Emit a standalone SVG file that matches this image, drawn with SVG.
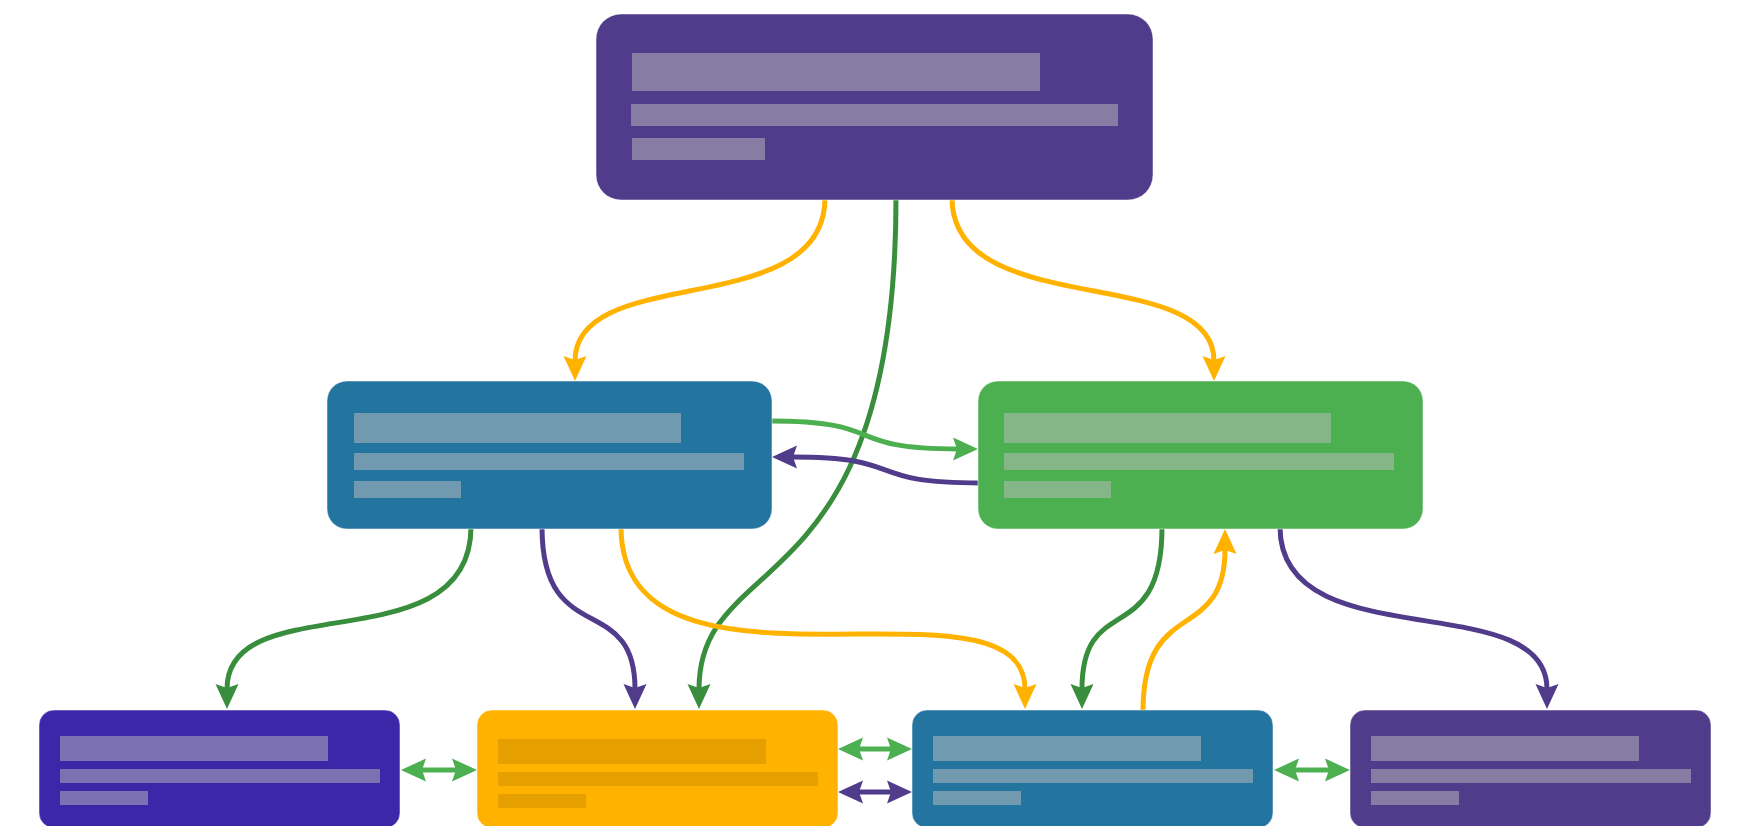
<svg xmlns="http://www.w3.org/2000/svg" width="1737" height="826" viewBox="0 0 1737 826">
  <style>
    .node { stroke: #ffffff; stroke-opacity: 0.5; stroke-width: 1; }
    .bar { fill: #bdbdbd; fill-opacity: 0.5; }
    .bar-dark { fill: #000000; fill-opacity: 0.1; }
    .edge { fill: none; stroke-width: 5; }
    .yellow { stroke: #FFB300; }
    .dgreen { stroke: #388E3C; }
    .lgreen { stroke: #4CAF50; }
    .purple { stroke: #513B8B; }
  </style>
  <defs>
    <marker id="m-yellow" markerUnits="userSpaceOnUse" markerWidth="50" markerHeight="50" refX="0" refY="0" orient="auto-start-reverse" overflow="visible">
      <path d="M20,0 L-5,-11.5 L-1,0 L-5,11.5 Z" fill="#FFB300"/>
    </marker>
    <marker id="m-dgreen" markerUnits="userSpaceOnUse" markerWidth="50" markerHeight="50" refX="0" refY="0" orient="auto-start-reverse" overflow="visible">
      <path d="M20,0 L-5,-11.5 L-1,0 L-5,11.5 Z" fill="#388E3C"/>
    </marker>
    <marker id="m-lgreen" markerUnits="userSpaceOnUse" markerWidth="50" markerHeight="50" refX="0" refY="0" orient="auto-start-reverse" overflow="visible">
      <path d="M20,0 L-5,-11.5 L-1,0 L-5,11.5 Z" fill="#4CAF50"/>
    </marker>
    <marker id="m-purple" markerUnits="userSpaceOnUse" markerWidth="50" markerHeight="50" refX="0" refY="0" orient="auto-start-reverse" overflow="visible">
      <path d="M20,0 L-5,-11.5 L-1,0 L-5,11.5 Z" fill="#513B8B"/>
    </marker>
  </defs>
  <rect width="1737" height="826" fill="#ffffff"/>

  <g id="connectors">
    <path class="edge dgreen" d="M896,198 C896,610 699,547 699,689" marker-end="url(#m-dgreen)"/>
    <path class="edge yellow" d="M825,198 C825,322 575,262 575,361" marker-end="url(#m-yellow)"/>
    <path class="edge yellow" d="M952,198 C952,322 1214,262 1214,361" marker-end="url(#m-yellow)"/>
    <path class="edge lgreen" d="M770,421 C890,421 840,449 958,449" marker-end="url(#m-lgreen)"/>
    <path class="edge purple" d="M980,483 C860,483 910,457 792,457" marker-end="url(#m-purple)"/>
    <path class="edge dgreen" d="M471,527 C471,665 227,585 227,689" marker-end="url(#m-dgreen)"/>
    <path class="edge purple" d="M542,527 C542,650 635,590 635,689" marker-end="url(#m-purple)"/>
    <path class="edge yellow" d="M621,527 C621,723 1025,563 1025,689" marker-end="url(#m-yellow)"/>
    <path class="edge dgreen" d="M1162,527 C1162,650 1082,590 1082,689" marker-end="url(#m-dgreen)"/>
    <path class="edge yellow" d="M1143,711 C1143,595 1225,645 1225,549" marker-end="url(#m-yellow)"/>
    <path class="edge purple" d="M1280,527 C1280,660 1547,585 1547,689" marker-end="url(#m-purple)"/>
    <path class="edge lgreen" d="M421,770 L457,770" marker-start="url(#m-lgreen)" marker-end="url(#m-lgreen)"/>
    <path class="edge lgreen" d="M858,749 L892,749" marker-start="url(#m-lgreen)" marker-end="url(#m-lgreen)"/>
    <path class="edge purple" d="M858,792 L892,792" marker-start="url(#m-purple)" marker-end="url(#m-purple)"/>
    <path class="edge lgreen" d="M1294,770 L1330,770" marker-start="url(#m-lgreen)" marker-end="url(#m-lgreen)"/>
  </g>

  <g id="node-top">
    <rect class="node" x="596" y="14" width="557" height="186" rx="25" fill="#513B8B"/>
    <rect class="bar" x="632" y="53" width="408" height="38"/>
    <rect class="bar" x="631" y="104" width="487" height="22"/>
    <rect class="bar" x="632" y="138" width="133" height="22"/>
  </g>

  <g id="node-mid-left">
    <rect class="node" x="327" y="381" width="445" height="148" rx="20" fill="#2474A0"/>
    <rect class="bar" x="354" y="413" width="327" height="30"/>
    <rect class="bar" x="354" y="453" width="390" height="17"/>
    <rect class="bar" x="354" y="481" width="107" height="17"/>
  </g>

  <g id="node-mid-right">
    <rect class="node" x="978" y="381" width="445" height="148" rx="20" fill="#4CAF50"/>
    <rect class="bar" x="1004" y="413" width="327" height="30"/>
    <rect class="bar" x="1004" y="453" width="390" height="17"/>
    <rect class="bar" x="1004" y="481" width="107" height="17"/>
  </g>

  <g id="node-bottom-1">
    <rect class="node" x="39" y="710" width="361" height="118" rx="15" fill="#3B27A8"/>
    <rect class="bar" x="60" y="736" width="268" height="25"/>
    <rect class="bar" x="60" y="769" width="320" height="14"/>
    <rect class="bar" x="60" y="791" width="88" height="14"/>
  </g>

  <g id="node-bottom-2">
    <rect class="node" x="477" y="710" width="361" height="118" rx="15" fill="#FFB300"/>
    <rect class="bar-dark" x="498" y="739" width="268" height="25"/>
    <rect class="bar-dark" x="498" y="772" width="320" height="14"/>
    <rect class="bar-dark" x="498" y="794" width="88" height="14"/>
  </g>

  <g id="node-bottom-3">
    <rect class="node" x="912" y="710" width="361" height="118" rx="15" fill="#2474A0"/>
    <rect class="bar" x="933" y="736" width="268" height="25"/>
    <rect class="bar" x="933" y="769" width="320" height="14"/>
    <rect class="bar" x="933" y="791" width="88" height="14"/>
  </g>

  <g id="node-bottom-4">
    <rect class="node" x="1350" y="710" width="361" height="118" rx="15" fill="#513B8B"/>
    <rect class="bar" x="1371" y="736" width="268" height="25"/>
    <rect class="bar" x="1371" y="769" width="320" height="14"/>
    <rect class="bar" x="1371" y="791" width="88" height="14"/>
  </g>
</svg>
